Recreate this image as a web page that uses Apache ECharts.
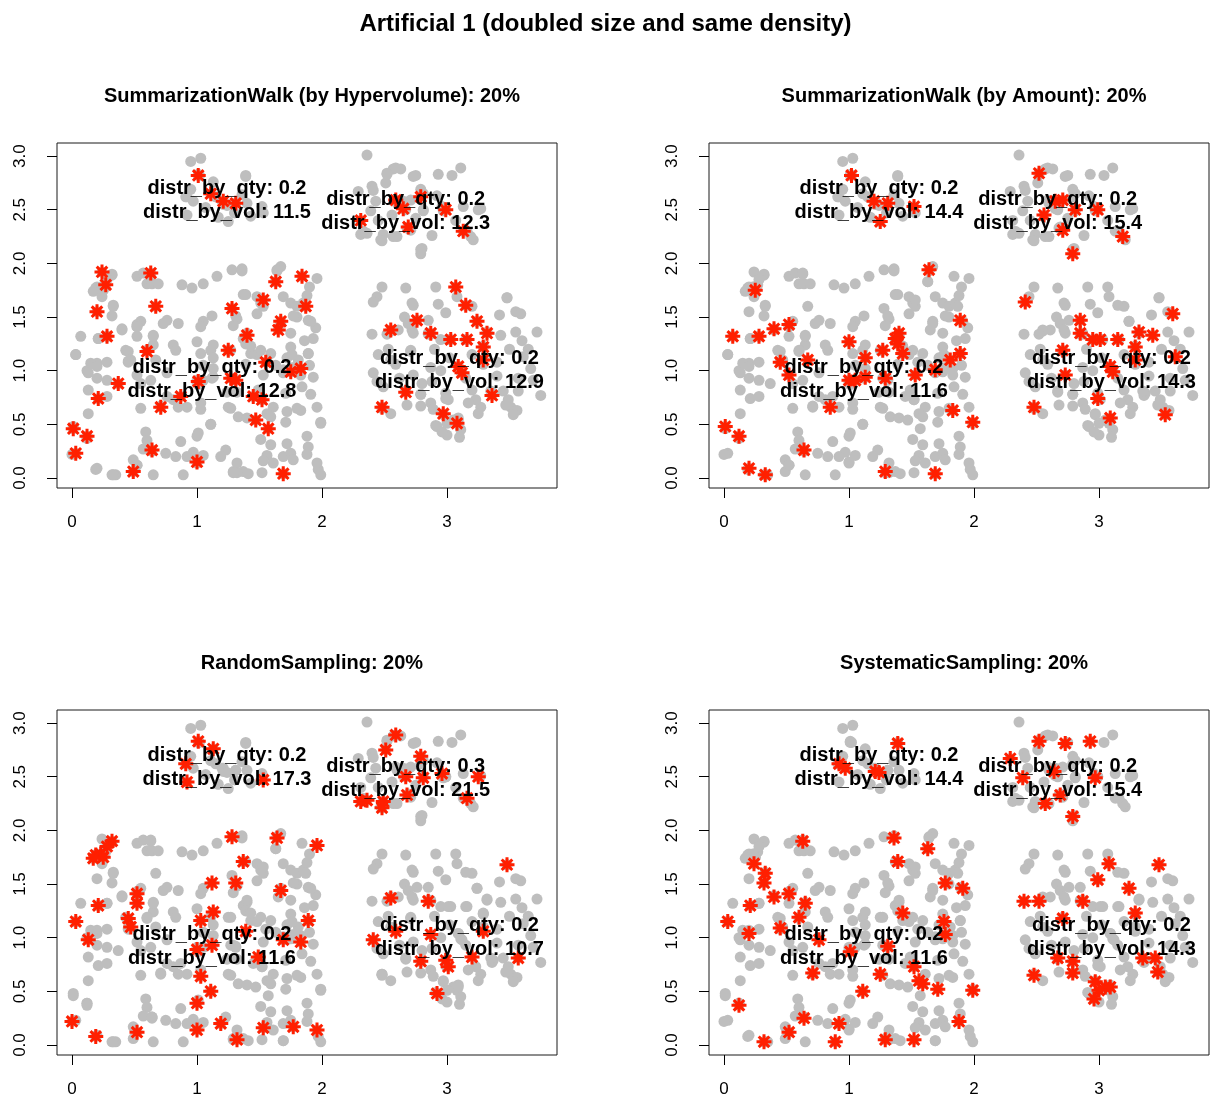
<!DOCTYPE html>
<html>
<head>
<meta charset="utf-8">
<script src="https://cdn.jsdelivr.net/npm/echarts@6/dist/echarts.min.js"></script>
<style>
  html, body { margin: 0; padding: 0; background: #ffffff; }
  #chart { width: 1211px; height: 1102px; }
</style>
</head>
<body>
<div id="chart"></div>
<script>
// Full data set: four clusters (upper-left, upper-right, lower-left, lower-right)
const basePoints = [
  // upper-left cluster
  [0.95,2.95],[1.03,2.98],[1.39,2.82],[0.95,2.69],[1.17,2.43],[1.40,2.56],[1.43,2.44],[1.36,2.64],[1.07,2.52],[1.15,2.62],[1.30,2.47],
  // upper-right cluster
  [2.36,3.01],[2.57,2.88],[2.63,2.88],[2.75,2.82],[3.04,2.82],[3.11,2.89],[2.40,2.72],[2.41,2.68],[2.81,2.65],[2.43,2.58],[2.60,2.56],
  [2.33,2.30],[2.47,2.22],[2.60,2.25],[2.88,2.26],[2.80,2.14],[3.21,2.22],[3.27,2.51],[3.13,2.53],[3.07,2.40],[2.92,2.63],[2.75,2.42],[2.45,2.40],
  // lower-left cluster
  [0.32,1.89],[0.20,1.78],[0.33,1.61],[0.52,1.88],[0.57,1.91],[0.60,1.81],[0.64,1.81],[0.69,1.81],[0.88,1.80],[0.96,1.77],[1.05,1.81],
  [1.16,1.88],[1.36,1.95],[1.48,1.69],[1.51,1.63],[1.67,1.97],[1.69,1.69],[1.75,1.63],[1.80,1.60],[1.85,1.63],
  [0.76,1.47],[0.73,1.44],[0.85,1.44],[0.55,1.46],[1.05,1.46],[1.03,1.41],[1.32,1.48],[1.29,1.42],[1.53,1.60],[1.48,1.53],[1.80,1.50],[1.75,1.35],
  [0.65,1.33],[0.65,1.24],[0.81,1.24],[0.83,1.19],[0.43,1.19],[0.15,1.07],[0.12,1.00],[0.20,1.07],[0.28,1.08],[0.28,0.91],[0.20,0.93],
  [0.13,0.82],[0.13,0.60],[0.28,0.76],[0.55,0.88],[0.63,0.91],[0.55,0.65],[0.76,0.76],[0.81,0.73],[0.92,0.66],[1.03,0.70],
  [0.59,0.43],[0.60,0.35],[0.87,0.34],[1.01,0.42],[0.75,0.23],[0.83,0.20],[0.97,0.24],[1.05,0.21],[0.65,0.03],[1.23,0.26],[1.32,0.14],
  [1.37,0.06],[1.41,0.04],[1.56,0.21],[1.61,0.14],[1.69,0.20],[1.51,0.36],[1.59,0.31],[1.72,0.32],[1.75,0.23],[1.27,0.65],[1.33,0.57],
  [1.40,0.56],[1.61,0.66],[1.72,0.62],[1.80,0.65],[1.71,0.79],[1.24,0.80],[1.32,0.80],[1.05,1.05],[1.13,1.02],[1.48,1.15],[1.59,1.16],
  [1.75,1.22],[1.72,1.12],[1.63,1.05],[1.11,1.19],[1.51,1.19],[0.49,0.17],[0.57,0.27],[0.35,0.03],
  [1.88,0.39],[1.89,0.29],[1.97,0.08],[1.99,0.03],[1.96,0.66],[1.91,0.78],[1.93,0.94],[1.90,1.05],[1.93,1.30],[1.95,1.40],[1.88,1.70],
  [1.90,1.78],[1.86,1.28],[1.84,0.85],
  // lower-right cluster
  [2.48,1.78],[2.67,1.77],[2.91,1.78],[2.72,1.63],[2.44,1.69],[2.73,1.61],[3.55,1.55],[2.66,1.50],[2.69,1.44],[2.72,1.38],[2.61,1.38],
  [2.73,1.35],[3.55,1.36],[3.72,1.36],[3.67,1.02],[3.69,0.91],[3.75,0.77],[2.44,0.90],[2.49,0.85],[2.55,1.10],[2.68,0.68],[2.87,0.70],
  [2.89,0.64],[2.91,0.49],[3.11,0.45],[3.27,0.66],[3.49,0.73],[3.51,0.66],[3.56,0.63],[3.37,0.79],[3.23,0.73],[3.17,0.70],[2.55,0.60],
  [2.62,0.93],[2.80,0.88],[2.88,0.90],[2.95,1.00],[3.02,1.12],[3.20,1.15],[3.40,1.08],[3.50,1.20],[3.60,1.28],[2.53,1.20],[2.90,1.20],
  [3.15,0.93],[3.40,0.95],[3.57,0.93],[2.45,1.15],[3.42,1.52],[3.20,1.60],[2.93,1.62],[3.65,1.20],[3.25,0.60],[3.00,0.40],[3.10,0.38]
];

// Points chosen by SummarizationWalk (by Hypervolume)
const hypervolumeSample = [
  [1.01,2.82],[1.11,2.65],[1.21,2.58],[1.31,2.56],
  [2.31,2.40],[2.59,2.59],[2.65,2.51],[2.79,2.62],[2.69,2.34],[2.99,2.50],[3.13,2.30],
  [3.07,1.78],[3.15,1.61],[2.76,1.47],[2.55,1.38],[3.24,1.46],[3.32,1.35],[2.87,1.35],[3.03,1.29],[3.16,1.29],[3.29,1.22],
  [3.09,1.04],[3.12,0.98],[3.29,1.10],[2.67,0.80],[3.36,0.77],[2.48,0.66],[2.97,0.60],[3.08,0.51],
  [0.24,1.92],[0.27,1.80],[0.63,1.91],[0.67,1.60],[0.20,1.55],[1.28,1.58],[1.53,1.66],[1.63,1.83],[1.84,1.88],[1.87,1.60],
  [1.67,1.46],[1.65,1.38],[0.28,1.32],[1.40,1.33],[0.60,1.18],[1.25,1.19],[1.55,1.08],[1.83,1.02],[0.37,0.88],[1.01,0.90],
  [1.27,0.93],[1.31,0.91],[0.21,0.74],[0.87,0.76],[0.71,0.66],[1.45,0.76],[1.52,0.73],[1.75,0.99],[1.47,0.54],[1.57,0.46],
  [0.01,0.46],[0.12,0.39],[0.03,0.23],[0.64,0.26],[1.00,0.15],[0.49,0.06],[1.69,0.04]
];

// Points chosen by SummarizationWalk (by Amount)
const amountSample = [
  [1.02,2.82],[1.20,2.58],[1.31,2.56],[1.25,2.39],[1.52,2.53],
  [2.52,2.84],[2.56,2.45],[2.65,2.58],[2.71,2.59],[2.81,2.50],[2.99,2.50],[2.71,2.31],[3.19,2.25],[2.79,2.09],
  [0.25,1.75],[1.64,1.94],[0.07,1.32],[0.28,1.32],[0.40,1.39],[0.52,1.43],[1.00,1.27],[1.13,1.12],[1.27,1.19],[1.37,1.30],
  [1.40,1.35],[1.39,1.25],[1.43,1.16],[0.45,1.08],[0.52,0.96],[0.67,1.10],[1.00,0.91],[1.05,0.91],[1.13,0.94],[1.29,0.93],
  [1.53,0.96],[1.69,1.01],[1.81,1.10],[1.89,1.16],[1.89,1.47],[1.83,0.63],[0.85,0.66],[0.01,0.48],[0.12,0.39],[0.64,0.26],
  [0.20,0.09],[0.33,0.03],[1.29,0.06],[1.69,0.04],[1.99,0.52],
  [2.41,1.64],[3.59,1.53],[2.85,1.47],[2.85,1.35],[2.95,1.29],[3.01,1.29],[3.15,1.29],[3.32,1.36],[3.43,1.33],[3.29,1.22],
  [2.71,1.19],[3.61,1.13],[3.09,1.04],[3.11,0.99],[2.73,0.96],[2.99,0.74],[2.48,0.66],[3.09,0.56],[3.53,0.59],[3.29,1.10]
];

// Points chosen by RandomSampling
const randomSample = [
  [1.01,2.83],[1.13,2.76],[0.91,2.62],[0.92,2.45],[1.53,2.47],
  [2.59,2.89],[2.51,2.75],[2.79,2.69],[2.67,2.50],[2.81,2.49],[2.96,2.53],[3.25,2.50],[2.31,2.27],[2.36,2.28],[2.49,2.27],
  [2.48,2.21],[2.68,2.33],[3.16,2.30],
  [0.32,1.90],[0.28,1.85],[0.19,1.77],[0.23,1.78],[0.25,1.75],[0.17,1.74],[1.28,1.94],[1.64,1.93],[1.37,1.71],[1.12,1.51],
  [1.31,1.51],[1.67,1.44],[0.52,1.41],[0.52,1.32],[0.21,1.30],[1.13,1.24],[1.03,1.16],[0.45,1.18],[0.47,1.10],[0.03,1.15],
  [0.13,0.98],[1.39,1.06],[1.69,0.98],[1.83,0.96],[1.12,0.93],[1.00,0.89],[1.49,0.82],[1.03,0.64],[1.11,0.50],[1.00,0.39],
  [0.00,0.22],[0.19,0.08],[0.52,0.12],[1.00,0.14],[1.19,0.20],[1.32,0.05],[1.53,0.16],[1.77,0.17],[1.96,1.86],[1.89,1.16],[1.96,0.14],
  [3.48,1.68],[2.55,1.37],[2.85,1.34],[2.59,1.06],[2.87,1.03],[2.41,0.98],[3.29,1.06],[2.79,0.78],[2.99,0.79],[3.01,0.73],
  [3.20,0.82],[3.57,0.81],[2.92,0.48]
];

// Points chosen by SystematicSampling
const systematicSample = [
  [1.39,2.81],[0.92,2.62],[0.97,2.58],[1.21,2.55],[1.24,2.54],
  [2.52,2.83],[2.73,2.81],[2.93,2.83],[2.29,2.67],[2.39,2.49],[2.64,2.55],[2.97,2.49],[2.57,2.25],[2.69,2.33],[2.79,2.13],
  [0.63,1.90],[1.36,1.93],[1.63,1.83],[1.39,1.71],[0.24,1.69],[0.33,1.60],[0.32,1.51],[1.77,1.51],[0.40,1.38],[0.52,1.41],
  [0.21,1.30],[0.65,1.32],[0.60,1.19],[1.43,1.23],[1.76,1.15],[0.03,1.15],[0.45,1.09],[0.20,1.04],[0.76,0.98],[1.01,0.87],
  [1.31,0.92],[1.77,1.03],[1.52,0.73],[0.71,0.67],[1.25,0.66],[1.56,0.60],[1.59,0.57],[1.71,0.52],[1.11,0.50],[0.12,0.37],
  [0.64,0.25],[0.92,0.20],[0.52,0.12],[0.32,0.03],[0.89,0.03],[1.29,0.05],[1.52,0.05],[1.88,0.22],[1.91,1.46],[1.99,0.51],
  [3.08,1.69],[3.48,1.68],[2.99,1.54],[3.24,1.46],[2.40,1.34],[2.52,1.34],[2.87,1.34],[3.29,1.23],[2.71,1.18],[2.67,0.81],
  [2.79,0.78],[2.79,0.67],[3.35,0.81],[3.45,0.81],[3.47,0.68],[2.48,0.65],[2.97,0.59],[3.05,0.54],[3.09,0.54],[3.00,0.51],[2.96,0.43]
];

const panelTitles = [
  'SummarizationWalk (by Hypervolume): 20%',
  'SummarizationWalk (by Amount): 20%',
  'RandomSampling: 20%',
  'SystematicSampling: 20%'
];

// Where each cluster's summary is written (upper-left, upper-right, lower-left, lower-right)
const clusterCentres = [[1.24,2.59],[2.67,2.48],[1.12,0.92],[3.10,1.00]];
const qtyShares = [
  [0.2,0.2,0.2,0.2],
  [0.2,0.2,0.2,0.2],
  [0.2,0.3,0.2,0.2],
  [0.2,0.2,0.2,0.2]
];
const volShares = [
  [11.5,12.3,12.8,12.9],
  [14.4,15.4,11.6,14.3],
  [17.3,21.5,11.6,10.7],
  [14.4,15.4,11.6,14.3]
];

const xTicks = [0,1,2,3];
const yTicks = [0,0.5,1,1.5,2,2.5,3];

const samples = [hypervolumeSample, amountSample, randomSample, systematicSample];
// every sampled point is one of the data points
const allPoints = basePoints.concat(hypervolumeSample, amountSample, randomSample, systematicSample);

const FONT = '"Liberation Sans", Arial, Helvetica, sans-serif';
const panelBoxes = [
  { left: 57, top: 143 }, { left: 709, top: 143 },
  { left: 57, top: 710 }, { left: 709, top: 710 }
];
const BOX_W = 500, BOX_H = 345;

// asterisk made of a plus and a cross, stroked
const asterisk = 'path://M10,0L10,20M0,10L20,10M2.93,2.93L17.07,17.07M2.93,17.07L17.07,2.93';

const grids = [], xAxes = [], yAxes = [], series = [], titles = [];
titles.push({
  text: 'Artificial 1 (doubled size and same density)',
  left: 'center', top: 7,
  textStyle: { fontFamily: FONT, fontSize: 24, fontWeight: 'bold', color: '#000' }
});

panelBoxes.forEach((b, i) => {
  grids.push({
    left: b.left, top: b.top, width: BOX_W, height: BOX_H,
    show: true, borderColor: '#1a1a1a', borderWidth: 1, backgroundColor: 'transparent'
  });
  titles.push({
    text: panelTitles[i],
    left: b.left + BOX_W / 2, top: b.top - 62, textAlign: 'center',
    textStyle: { fontFamily: FONT, fontSize: 20, fontWeight: 'bold', color: '#000' }
  });
  xAxes.push({
    type: 'value', gridIndex: i, min: -0.12, max: 3.88,
    splitLine: { show: false },
    axisLine: { show: false, onZero: false },
    axisTick: { show: true, inside: false, customValues: xTicks, length: 10, lineStyle: { color: '#000', width: 1 } },
    axisLabel: {
      customValues: xTicks, margin: 26, color: '#000',
      fontFamily: FONT, fontSize: 17, formatter: v => String(v)
    }
  });
  yAxes.push({
    type: 'value', gridIndex: i, min: -0.093, max: 3.122,
    splitLine: { show: false },
    axisLine: { show: false, onZero: false },
    axisTick: { show: true, inside: false, customValues: yTicks, length: 10, lineStyle: { color: '#000', width: 1 } },
    axisLabel: {
      customValues: yTicks, margin: 28, rotate: 90, color: '#000',
      fontFamily: FONT, fontSize: 17, formatter: v => v.toFixed(1)
    }
  });
  series.push({
    type: 'scatter', xAxisIndex: i, yAxisIndex: i, silent: true, z: 2,
    symbol: 'circle', symbolSize: 11,
    itemStyle: { color: '#bebebe', opacity: 1 },
    data: allPoints
  });
  series.push({
    type: 'scatter', xAxisIndex: i, yAxisIndex: i, silent: true, z: 3,
    symbol: asterisk, symbolSize: 15,
    itemStyle: { color: 'rgba(0,0,0,0)', borderColor: '#ff1f00', borderWidth: 3, opacity: 1 },
    data: samples[i]
  });
  series.push({
    type: 'scatter', xAxisIndex: i, yAxisIndex: i, silent: true, z: 4,
    symbolSize: 1, itemStyle: { color: 'rgba(0,0,0,0)', opacity: 1 },
    label: {
      show: true, position: 'inside', color: '#000', opacity: 1,
      fontFamily: FONT, fontSize: 20, fontWeight: 'bold', lineHeight: 24,
      formatter: p => p.data[2]
    },
    data: clusterCentres.map((c, k) => [c[0], c[1],
      'distr_by_qty: ' + qtyShares[i][k] + '\ndistr_by_vol: ' + volShares[i][k]])
  });
});

const chart = echarts.init(document.getElementById('chart'), null, { renderer: 'canvas' });
chart.setOption({
  backgroundColor: '#ffffff',
  animation: false,
  title: titles,
  grid: grids,
  xAxis: xAxes,
  yAxis: yAxes,
  series: series
});
</script>
</body>
</html>
